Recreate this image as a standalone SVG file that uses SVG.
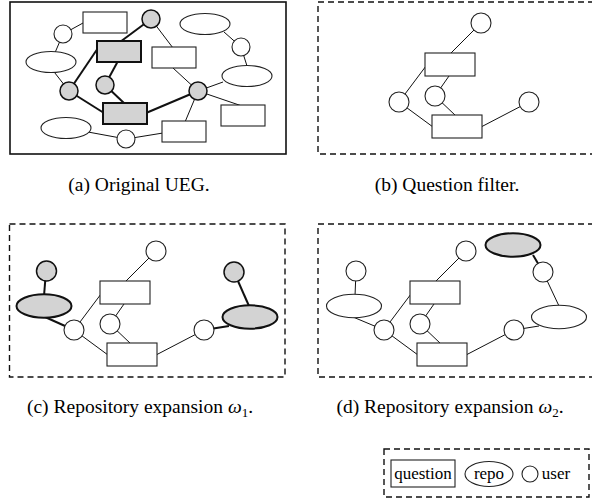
<svg xmlns="http://www.w3.org/2000/svg" width="592" height="502" viewBox="0 0 592 502">
<style>
.n{fill:#fff;stroke:#222;stroke-width:1.1}
.g{fill:#d3d3d3;stroke:#111;stroke-width:1.5}
.gt{fill:#d3d3d3;stroke:#111;stroke-width:2}
.e{stroke:#111;stroke-width:1;fill:none}
.et{stroke:#111;stroke-width:2;fill:none}
.fr{fill:none;stroke:#111;stroke-width:1.4;stroke-dasharray:6 4}
.cap{font-family:"Liberation Serif",serif;font-size:19.5px;fill:#000;text-anchor:middle}
.lg{font-family:"Liberation Serif",serif;font-size:17px;fill:#000;text-anchor:middle}
</style>
<rect width="592" height="502" fill="#fff"/>

<!-- Panel a -->
<g id="panel-a">
<rect x="10" y="2" width="276" height="152" fill="none" stroke="#111" stroke-width="1.6"/>
<g id="edges-a">
<line class="e" x1="83" y1="23" x2="63" y2="34"/>
<line class="e" x1="63" y1="34" x2="51" y2="62"/>
<line class="e" x1="51" y1="68" x2="69" y2="91"/>
<line class="et" x1="69" y1="91" x2="98" y2="48"/>
<line class="et" x1="69" y1="91" x2="104" y2="113"/>
<line class="et" x1="151" y1="19" x2="120" y2="42"/>
<line class="e" x1="151" y1="19" x2="173" y2="48"/>
<line class="et" x1="118" y1="61" x2="105" y2="85"/>
<line class="et" x1="105" y1="85" x2="125" y2="104"/>
<line class="e" x1="173" y1="68" x2="198" y2="91"/>
<line class="et" x1="146" y1="113" x2="198" y2="91"/>
<line class="e" x1="198" y1="91" x2="223" y2="82"/>
<line class="e" x1="198" y1="91" x2="242" y2="106"/>
<line class="e" x1="198" y1="91" x2="185" y2="122"/>
<line class="e" x1="224" y1="32" x2="241" y2="47"/>
<line class="e" x1="241" y1="47" x2="247" y2="66"/>
<line class="e" x1="88" y1="132" x2="126" y2="139"/>
<line class="e" x1="126" y1="139" x2="163" y2="133"/>
</g>
<g id="a-q1"><rect class="n" x="83" y="12" width="44" height="21"/></g>
<g id="a-u1"><circle class="g" cx="151" cy="19" r="9"/></g>
<g id="a-u2"><circle class="n" cx="63" cy="34" r="9"/></g>
<g id="a-r1"><ellipse class="n" cx="205" cy="24" rx="25" ry="10.5"/></g>
<g id="a-q2"><rect class="gt" x="97" y="41" width="44" height="21"/></g>
<g id="a-q3"><rect class="n" x="152" y="47" width="44" height="21"/></g>
<g id="a-u3"><circle class="n" cx="241" cy="47" r="9"/></g>
<g id="a-r2"><ellipse class="n" cx="51" cy="62" rx="25" ry="10.5"/></g>
<g id="a-r3"><ellipse class="n" cx="247" cy="76" rx="25" ry="10.5"/></g>
<g id="a-u4"><circle class="g" cx="105" cy="85" r="9"/></g>
<g id="a-u5"><circle class="g" cx="69" cy="91" r="9"/></g>
<g id="a-u6"><circle class="g" cx="198" cy="91" r="9"/></g>
<g id="a-q4"><rect class="gt" x="103" y="103" width="44" height="21"/></g>
<g id="a-q5"><rect class="n" x="221" y="105" width="44" height="21"/></g>
<g id="a-r4"><ellipse class="n" cx="66" cy="128" rx="25" ry="10.5"/></g>
<g id="a-u7"><circle class="n" cx="126" cy="139" r="9"/></g>
<g id="a-q6"><rect class="n" x="162" y="121" width="44" height="21"/></g>
</g>
<text class="cap" x="139" y="191">(a)  Original UEG.</text>

<!-- Panel b -->
<g id="panel-b">
<path class="fr" d="M594 2 H318 V154 H594"/>
<g id="edges-b">
<line class="e" x1="481" y1="23" x2="451" y2="53"/>
<line class="e" x1="426" y1="66" x2="399" y2="102"/>
<line class="e" x1="449" y1="76" x2="435" y2="96"/>
<line class="e" x1="399" y1="102" x2="433" y2="127"/>
<line class="e" x1="435" y1="96" x2="456" y2="116"/>
<line class="e" x1="481" y1="127" x2="529" y2="102"/>
</g>
<g id="b-u1"><circle class="n" cx="481" cy="23" r="10"/></g>
<g id="b-q1"><rect class="n" x="425" y="53" width="50" height="23"/></g>
<g id="b-u2"><circle class="n" cx="399" cy="102" r="10"/></g>
<g id="b-u3"><circle class="n" cx="435" cy="96" r="10"/></g>
<g id="b-u4"><circle class="n" cx="529" cy="102" r="10"/></g>
<g id="b-q2"><rect class="n" x="432" y="115" width="50" height="23"/></g>
</g>
<text class="cap" x="447" y="191">(b)  Question filter.</text>

<!-- Panel c -->
<g id="panel-c">
<rect class="fr" x="9.5" y="224" width="275.5" height="153"/>
<g id="edges-c">
<line class="e" x1="156" y1="251" x2="126" y2="281"/>
<line class="e" x1="101" y1="294" x2="74" y2="330"/>
<line class="e" x1="124" y1="304" x2="110" y2="324"/>
<line class="e" x1="74" y1="330" x2="108" y2="355"/>
<line class="e" x1="110" y1="324" x2="131" y2="344"/>
<line class="e" x1="156" y1="355" x2="204" y2="330"/>
<line class="et" x1="46" y1="271" x2="44" y2="296"/>
<line class="et" x1="45" y1="317" x2="74" y2="330"/>
<line class="et" x1="234" y1="272" x2="249" y2="306"/>
<line class="et" x1="229" y1="326" x2="204" y2="330"/>
</g>
<g id="c-u1"><circle class="n" cx="156" cy="251" r="10"/></g>
<g id="c-q1"><rect class="n" x="100" y="281" width="50" height="23"/></g>
<g id="c-u2"><circle class="n" cx="74" cy="330" r="10"/></g>
<g id="c-u3"><circle class="n" cx="110" cy="324" r="10"/></g>
<g id="c-u4"><circle class="n" cx="204" cy="330" r="10"/></g>
<g id="c-q2"><rect class="n" x="107" y="343" width="50" height="23"/></g>
<g id="c-u5"><circle class="g" cx="46.5" cy="271" r="10"/></g>
<g id="c-r1"><ellipse class="gt" cx="44" cy="306" rx="27.5" ry="11.7"/></g>
<g id="c-u6"><circle class="g" cx="234" cy="272" r="10"/></g>
<g id="c-r2"><ellipse class="gt" cx="250" cy="317" rx="27.5" ry="11.7"/></g>
</g>
<text class="cap" x="140" y="413">(c)  Repository expansion <tspan font-style="italic">ω</tspan><tspan font-size="13" dy="4">1</tspan><tspan dy="-4">.</tspan></text>

<!-- Panel d -->
<g id="panel-d">
<path class="fr" d="M594 224 H318 V377 H594"/>
<g id="edges-d">
<line class="e" x1="466" y1="251" x2="436" y2="281"/>
<line class="e" x1="411" y1="294" x2="384" y2="330"/>
<line class="e" x1="434" y1="304" x2="420" y2="324"/>
<line class="e" x1="384" y1="330" x2="418" y2="355"/>
<line class="e" x1="420" y1="324" x2="441" y2="344"/>
<line class="e" x1="466" y1="355" x2="514" y2="330"/>
<line class="e" x1="356" y1="271" x2="355" y2="296"/>
<line class="e" x1="353" y1="317" x2="384" y2="330"/>
<line class="et" x1="533" y1="255" x2="543" y2="272"/>
<line class="e" x1="543" y1="272" x2="559" y2="306"/>
<line class="e" x1="539" y1="326" x2="514" y2="330"/>
</g>
<g id="d-u1"><circle class="n" cx="466" cy="251" r="10"/></g>
<g id="d-q1"><rect class="n" x="410" y="281" width="50" height="23"/></g>
<g id="d-u2"><circle class="n" cx="384" cy="330" r="10"/></g>
<g id="d-u3"><circle class="n" cx="420" cy="324" r="10"/></g>
<g id="d-u4"><circle class="n" cx="514" cy="330" r="10"/></g>
<g id="d-q2"><rect class="n" x="417" y="343" width="50" height="23"/></g>
<g id="d-u5"><circle class="n" cx="356" cy="271" r="10"/></g>
<g id="d-r1"><ellipse class="n" cx="354" cy="306" rx="27.5" ry="11.7"/></g>
<g id="d-r2"><ellipse class="gt" cx="513" cy="245" rx="27.5" ry="11.7"/></g>
<g id="d-u6"><circle class="n" cx="543" cy="272" r="10"/></g>
<g id="d-r3"><ellipse class="n" cx="559" cy="317" rx="27.5" ry="11.7"/></g>
</g>
<text class="cap" x="450" y="413">(d)  Repository expansion <tspan font-style="italic">ω</tspan><tspan font-size="13" dy="4">2</tspan><tspan dy="-4">.</tspan></text>

<!-- Legend -->
<g id="legend">
<rect class="fr" x="384" y="449" width="205" height="48"/>
<g id="legend-question"><rect class="n" x="391" y="460" width="64" height="27"/><text class="lg" x="423" y="479">question</text></g>
<g id="legend-repo"><ellipse class="n" cx="489" cy="474" rx="24" ry="12.5"/><text class="lg" x="489" y="479">repo</text></g>
<g id="legend-user"><circle class="n" cx="530" cy="474" r="8"/><text class="lg" x="556" y="479">user</text></g>
</g>
</svg>
